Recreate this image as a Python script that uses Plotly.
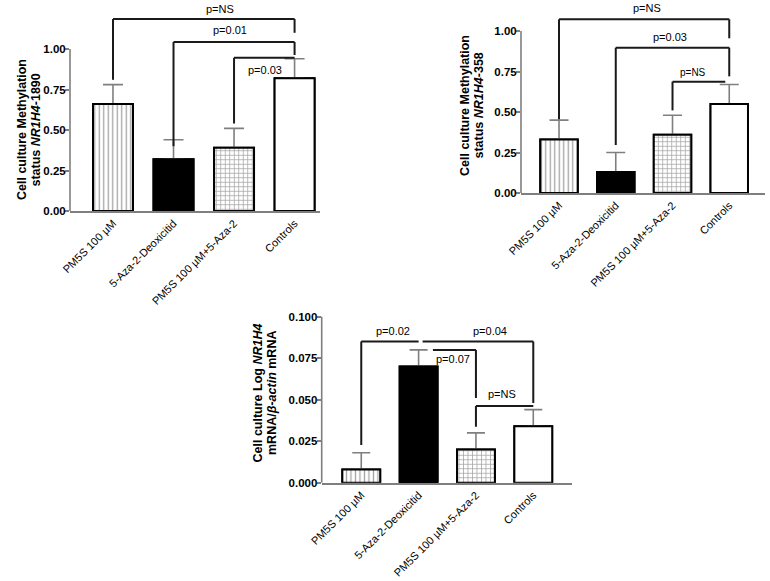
import plotly.graph_objects as go

# ---------------- data ----------------
categories = ["PM5S 100 µM", "5-Aza-2-Deoxicitid", "PM5S 100 µM+5-Aza-2", "Controls"]

meth1890_mean = [0.66, 0.32, 0.39, 0.82]
meth1890_sem = [0.12, 0.12, 0.12, 0.12]

meth358_mean = [0.33, 0.13, 0.36, 0.55]
meth358_sem = [0.12, 0.12, 0.12, 0.12]

mrna_mean = [0.008, 0.070, 0.020, 0.034]
mrna_sem = [0.010, 0.010, 0.010, 0.010]

meth_tickvals = [0, 0.25, 0.50, 0.75, 1.00]
meth_ticktext = ["0.00", "0.25", "0.50", "0.75", "1.00"]
mrna_tickvals = [0, 0.025, 0.050, 0.075, 0.100]
mrna_ticktext = ["0.000", "0.025", "0.050", "0.075", "0.100"]

# significance brackets: (from idx, to idx, level, left-leg bottom, right-leg bottom)
brackets_1890 = [(0, 3, 1.185, 0.81, 1.10), (1, 3, 1.043, 0.40, 0.963), (2, 3, 0.946, 0.54, None)]
labels_1890 = [("p=NS", 1.77, 1.247, 11), ("p=0.01", 1.93, 1.117, 11), ("p=0.03", 2.51, 0.870, 11)]

brackets_358 = [(0, 3, 1.072, 0.455, 0.955), (1, 3, 0.897, 0.296, 0.72), (2, 2.93, 0.687, 0.51, None)]
labels_358 = [("p=NS", 1.55, 1.142, 11), ("p=0.03", 1.96, 0.963, 11), ("p=NS", 2.36, 0.741, 10)]

brackets_mrna = [(0, 1.0, 0.085, 0.0227, None), (1.07, 3, 0.085, None, 0.048),
                 (1.25, 2, 0.080, None, 0.051), (2, 3, 0.0462, 0.0337, None)]
labels_mrna = [("p=0.02", 0.55, 0.0914, 11), ("p=0.04", 2.24, 0.0914, 11),
               ("p=0.07", 1.60, 0.0745, 11), ("p=NS", 2.45, 0.0534, 11)]

title_1890 = ["<b>Cell culture Methylation</b>", "<b>status <i>NR1H4</i>-1890</b>"]
title_358 = ["<b>Cell culture Methylation</b>", "<b>status <i>NR1H4</i>-358</b>"]
title_mrna = ["<b>Cell culture Log <i>NR1H4</i></b>", "<b>mRNA/<i>β-actin</i> mRNA</b>"]

# ---------------- styling ----------------
FONT = "Liberation Sans, Arial, sans-serif"
GRAY = "#7f7f7f"
W, H = 770, 581

pattern_shapes = ["|", "", "+", ""]
pattern_fg = ["#8a8a8a", "#000000", "#333333", "#ffffff"]
pattern_sol = [0.28, 0.3, 0.3, 0.3]
bar_colors = ["white", "black", "white", "white"]

panels = [
    dict(ax="", mean=meth1890_mean, sem=meth1890_sem, xpx=(70, 320), y0px=211, y1px=0,
         ytop=211 / 162, xr=[-0.71, 3.42], tv=meth_tickvals, tt=meth_ticktext, ymaxline=1.0,
         capw=10, br=brackets_1890, lb=labels_1890,
         title=title_1890, tx=(22, 35.5), ty=130),
    dict(ax="2", mean=meth358_mean, sem=meth358_sem, xpx=(521, 765), y0px=193, y1px=0,
         ytop=193 / 162, xr=[-0.67, 3.63], tv=meth_tickvals, tt=meth_ticktext, ymaxline=1.0,
         capw=9.5, br=brackets_358, lb=labels_358,
         title=title_358, tx=(465, 478.5), ty=106),
    dict(ax="3", mean=mrna_mean, sem=mrna_sem, xpx=(321.7, 571.7), y0px=482.7, y1px=300,
         ytop=(482.7 - 300) / 1660, xr=[-0.69, 3.67], tv=mrna_tickvals, tt=mrna_ticktext, ymaxline=0.100,
         capw=9, br=brackets_mrna, lb=labels_mrna,
         title=title_mrna, tx=(257.5, 272), ty=393),
]

fig = go.Figure()
shapes = []
annotations = []

for p in panels:
    xa = "x" + p["ax"]
    ya = "y" + p["ax"]
    for k in range(2):
        err = None
        if k == 0:
            err = dict(type="data", array=p["sem"], arrayminus=[0] * 4, symmetric=False,
                       color=GRAY, thickness=1.6, width=p["capw"])
        fig.add_trace(go.Bar(
            x=categories, y=p["mean"], xaxis=xa, yaxis=ya, width=0.66,
            marker=dict(color=bar_colors, line=dict(color="black", width=2),
                        pattern=dict(shape=pattern_shapes, fgcolor=pattern_fg, bgcolor=bar_colors,
                                     size=4.5, solidity=pattern_sol)),
            error_y=err, showlegend=False, hoverinfo="skip"))

    xkey = "xaxis" + p["ax"]
    ykey = "yaxis" + p["ax"]
    fig.update_layout(**{
        xkey: dict(domain=[p["xpx"][0] / W, p["xpx"][1] / W], range=p["xr"], anchor=ya,
                   showline=True, linecolor=GRAY, linewidth=1.6, ticks="", tickangle=-45,
                   tickfont=dict(family=FONT, size=11, color="black"), showgrid=False,
                   automargin=False, fixedrange=True),
        ykey: dict(domain=[1 - p["y0px"] / H, 1 - p["y1px"] / H], range=[0, p["ytop"]], anchor=xa,
                   showline=False, zeroline=False, showgrid=False, tickvals=p["tv"], ticktext=p["tt"],
                   ticks="outside", ticklen=4, tickwidth=1.6, tickcolor=GRAY, ticklabelstandoff=-3,
                   tickfont=dict(family=FONT, size=11.5, color="black", weight="bold"),
                   automargin=False, fixedrange=True),
    })
    # y-axis line only up to the last tick
    shapes.append(dict(type="line", xref=xa + " domain", yref=ya, x0=0, x1=0, y0=0, y1=p["ymaxline"],
                       line=dict(color=GRAY, width=1.6)))
    # brackets
    for (x0, x1, lvl, lbot, rbot) in p["br"]:
        ln = dict(color="#1a1a1a", width=2)
        shapes.append(dict(type="line", xref=xa, yref=ya, x0=x0, x1=x1, y0=lvl, y1=lvl, line=ln))
        if lbot is not None:
            shapes.append(dict(type="line", xref=xa, yref=ya, x0=x0, x1=x0, y0=lvl, y1=lbot, line=ln))
        if rbot is not None:
            shapes.append(dict(type="line", xref=xa, yref=ya, x0=x1, x1=x1, y0=lvl, y1=rbot, line=ln))
    for (txt, lx, ly, sz) in p["lb"]:
        annotations.append(dict(text=txt, xref=xa, yref=ya, x=lx, y=ly, showarrow=False,
                                xanchor="center", yanchor="middle",
                                font=dict(family=FONT, size=sz, color="black")))
    for line_txt, txp in zip(p["title"], p["tx"]):
        annotations.append(dict(text=line_txt, xref="paper", yref="paper", x=txp / W,
                                y=1 - p["ty"] / H, textangle=-90, showarrow=False,
                                xanchor="center", yanchor="middle",
                                font=dict(family=FONT, size=12.5, color="black")))

fig.update_layout(width=W, height=H, margin=dict(l=0, r=0, t=0, b=0, autoexpand=False),
                  plot_bgcolor="white", paper_bgcolor="white", barmode="overlay",
                  shapes=shapes, annotations=annotations, showlegend=False,
                  font=dict(family=FONT))

fig.write_html("out.html", config={"displayModeBar": False},
               post_script="document.body.style.margin='0px';")
